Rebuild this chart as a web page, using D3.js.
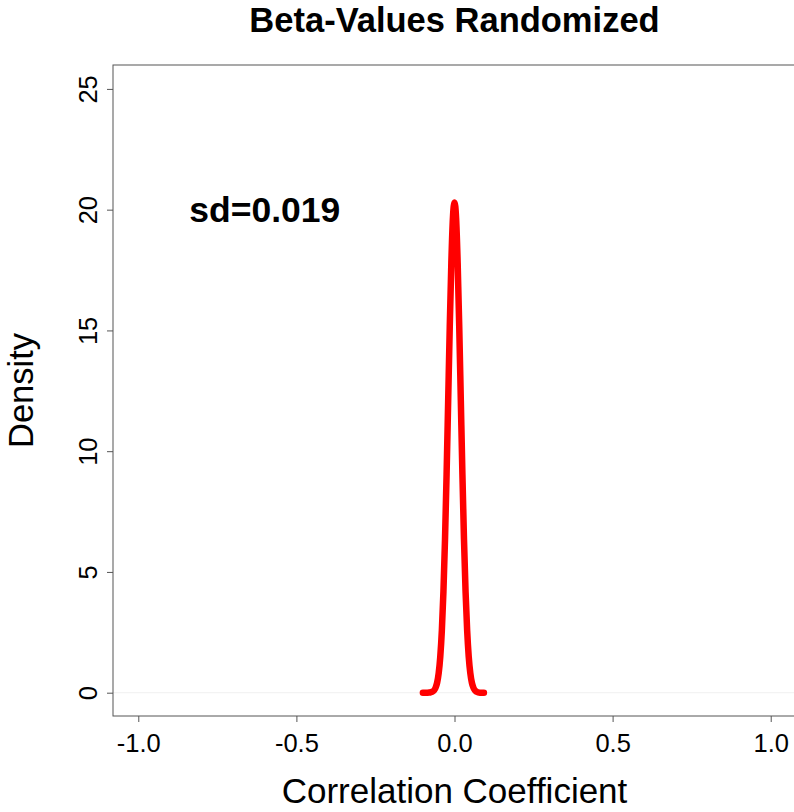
<!DOCTYPE html>
<html>
<head>
<meta charset="utf-8">
<script src="https://cdn.jsdelivr.net/npm/d3@7"></script>
<style>
  html, body { margin: 0; padding: 0; background: #fff; }
  svg { display: block; }
  text { font-family: "Liberation Sans", Arial, Helvetica, sans-serif; fill: #000; }
</style>
</head>
<body>
<svg id="chart" width="794" height="812"></svg>
<script>
// ---- data ----
const titleText = "Beta-Values Randomized";
const xLabel = "Correlation Coefficient";
const yLabel = "Density";
const annotation = "sd=0.019";
const xTicks = [-1.0, -0.5, 0.0, 0.5, 1.0];
const xTickLabels = ["-1.0", "-0.5", "0.0", "0.5", "1.0"];
const yTicks = [0, 5, 10, 15, 20, 25];
const yTickLabels = ["0", "5", "10", "15", "20", "25"];
// density curve (correlation coefficient, density)
const curveX = [-0.100, -0.090, -0.080, -0.075, -0.070, -0.065, -0.060, -0.055, -0.050, -0.045,
                -0.040, -0.035, -0.030, -0.025, -0.020, -0.015, -0.010, -0.005, 0.000,
                0.005, 0.010, 0.015, 0.020, 0.025, 0.030, 0.035, 0.040, 0.045, 0.050,
                0.055, 0.060, 0.065, 0.070, 0.075, 0.080, 0.093];
const curveY = [0.00, 0.00, 0.01, 0.02, 0.04, 0.09, 0.20, 0.41, 0.81, 1.49,
                2.58, 4.18, 6.35, 9.05, 12.10, 15.15, 17.80, 19.66, 20.30,
                19.66, 17.80, 15.15, 12.10, 9.05, 6.35, 4.18, 2.58, 1.49, 0.81,
                0.41, 0.20, 0.09, 0.04, 0.01, 0.00, 0.00];
const annotX = -0.6, annotY = 20;

// ---- layout ----
const svg = d3.select("#chart");
const plot = { left: 113, right: 796, top: 65, bottom: 716 };

const x = d3.scaleLinear().domain([-1.08, 1.08]).range([plot.left, plot.right]);
const y = d3.scaleLinear().domain([-0.965, 25.99]).range([plot.bottom, plot.top]);

// zero line (very faint)
svg.append("line")
  .attr("x1", plot.left).attr("x2", plot.right)
  .attr("y1", y(0)).attr("y2", y(0))
  .attr("stroke", "#f0f0f0").attr("stroke-width", 1);

// density curve
const line = d3.line()
  .x((d, i) => x(curveX[i]))
  .y(d => y(d))
  .curve(d3.curveMonotoneX);
svg.append("path")
  .datum(curveY)
  .attr("d", line)
  .attr("fill", "none")
  .attr("stroke", "#ff0000")
  .attr("stroke-width", 6.5)
  .attr("stroke-linecap", "round")
  .attr("stroke-linejoin", "round");

// box
svg.append("rect")
  .attr("x", plot.left).attr("y", plot.top)
  .attr("width", plot.right - plot.left).attr("height", plot.bottom - plot.top)
  .attr("fill", "none").attr("stroke", "#555").attr("stroke-width", 1);

// x axis
const xAxis = d3.axisBottom(x)
  .tickValues(xTicks)
  .tickFormat((d, i) => xTickLabels[i])
  .tickSize(6).tickPadding(12);
const gx = svg.append("g").attr("transform", `translate(0,${plot.bottom})`).call(xAxis);
gx.select(".domain").remove();
gx.selectAll(".tick line").attr("stroke", "#555");
gx.selectAll(".tick text")
  .attr("font-size", 25.5)
  .attr("font-family", "'Liberation Sans', Arial, sans-serif")
  .attr("fill", "#000");

// y axis
const yAxis = d3.axisLeft(y)
  .tickValues(yTicks)
  .tickFormat((d, i) => yTickLabels[i])
  .tickSize(6).tickPadding(0);
const gy = svg.append("g").attr("transform", `translate(${plot.left},0)`).call(yAxis);
gy.select(".domain").remove();
gy.selectAll(".tick line").attr("stroke", "#555");
gy.selectAll(".tick text")
  .attr("font-size", 25.5)
  .attr("font-family", "'Liberation Sans', Arial, sans-serif")
  .attr("fill", "#000")
  .attr("x", null).attr("dy", null)
  .attr("text-anchor", "middle")
  .attr("transform", "translate(-16,0) rotate(-90)");

// title
svg.append("text")
  .attr("x", (plot.left + plot.right) / 2).attr("y", 32)
  .attr("text-anchor", "middle")
  .attr("font-weight", "bold").attr("font-size", 34.5)
  .text(titleText);

// axis labels
svg.append("text")
  .attr("x", (plot.left + plot.right) / 2).attr("y", 803)
  .attr("text-anchor", "middle")
  .attr("font-size", 35)
  .text(xLabel);
svg.append("text")
  .attr("transform", `translate(33,${(plot.top + plot.bottom) / 2}) rotate(-90)`)
  .attr("text-anchor", "middle")
  .attr("font-size", 34.5)
  .text(yLabel);

// annotation
svg.append("text")
  .attr("x", x(annotX)).attr("y", y(annotY))
  .attr("dy", "0.35em")
  .attr("text-anchor", "middle")
  .attr("font-weight", "bold").attr("font-size", 35.5)
  .text(annotation);
</script>
</body>
</html>
